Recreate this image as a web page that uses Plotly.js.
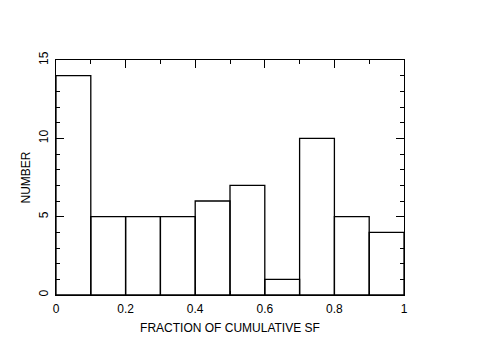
<!DOCTYPE html>
<html>
<head>
<meta charset="utf-8">
<script src="https://cdn.plot.ly/plotly-3.0.1.min.js"></script>
<style>
  body { margin: 0; background: #fff; }
  #chart { width: 491px; height: 346px; }
</style>
</head>
<body>
<div id="chart"></div>
<script>
// bin centres (bins of 0.1 from 0 to 1) and counts
const binCentres = [0.05, 0.15, 0.25, 0.35, 0.45, 0.55, 0.65, 0.75, 0.85, 0.95];
const counts = [14, 5, 5, 5, 6, 7, 1, 10, 5, 4];
const xTickVals = [0, 0.2, 0.4, 0.6, 0.8, 1];
const xTickText = ["0", "0.2", "0.4", "0.6", "0.8", "1"];
const yTickVals = [0, 5, 10, 15];

const font = { family: "Liberation Sans, Arial, sans-serif", color: "#000", size: 12 };

const axisBase = {
  showline: true,
  linecolor: "#000",
  linewidth: 1,
  mirror: "allticks",
  ticks: "inside",
  tickcolor: "#000",
  ticklen: 8,
  tickwidth: 1,
  showgrid: false,
  zeroline: false,
  tickfont: font,
};

Plotly.newPlot(
  "chart",
  [{
    type: "bar",
    x: binCentres,
    y: counts,
    width: 0.1,
    marker: { color: "rgba(0,0,0,0)", line: { color: "#000", width: 1.3 } },
    hoverinfo: "x+y",
  }],
  {
    width: 491,
    height: 346,
    paper_bgcolor: "#fff",
    plot_bgcolor: "#fff",
    font: font,
    showlegend: false,
    margin: { l: 56, r: 87, t: 60, b: 51 },
    bargap: 0,
    xaxis: Object.assign({}, axisBase, {
      range: [0, 1],
      tickvals: xTickVals,
      ticktext: xTickText,
      ticklabelstandoff: 3,
      minor: { dtick: 0.1, ticklen: 4, tickcolor: "#000", ticks: "inside" },
      title: { text: "FRACTION OF CUMULATIVE SF", font: font, standoff: 8 },
    }),
    yaxis: Object.assign({}, axisBase, {
      range: [0, 15],
      tickvals: yTickVals,
      tickangle: -90,
      ticklabelstandoff: 2,
      minor: { dtick: 1, ticklen: 4, tickcolor: "#000", ticks: "inside" },
      title: { text: "NUMBER", font: font, standoff: 4 },
    }),
  },
  { displayModeBar: false, staticPlot: true }
);
</script>
</body>
</html>
